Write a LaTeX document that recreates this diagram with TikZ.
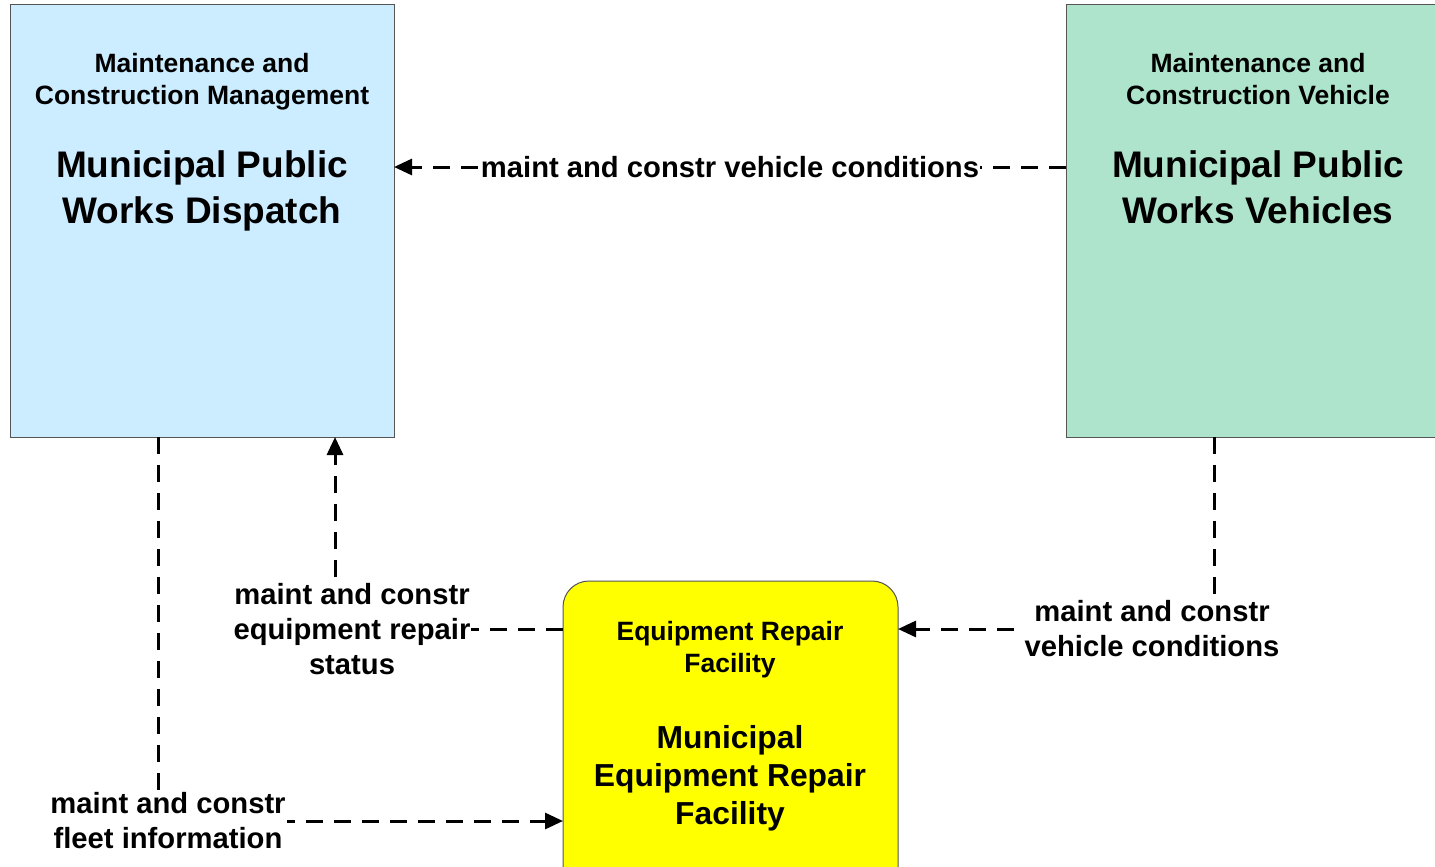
\documentclass[tikz,border=0pt]{standalone}
\usepackage{fontspec}
\setmainfont{Liberation Sans}
\usetikzlibrary{arrows.meta,calc}
\definecolor{dispblue}{HTML}{CCECFF}
\definecolor{vehgreen}{HTML}{AEE4CB}
\definecolor{repyellow}{HTML}{FFFF00}
\definecolor{boxline}{HTML}{555555}
\tikzset{
  boxshape/.style={draw=boxline, line width=1pt, inner sep=0pt},
  hdr/.style={font=\bfseries\fontsize{26.5}{32}\selectfont, align=center, inner sep=0pt},
  ttl/.style={font=\bfseries\fontsize{37}{46}\selectfont, align=center, inner sep=0pt},
  ttlsmall/.style={font=\bfseries\fontsize{31.8}{38}\selectfont, align=center, inner sep=0pt},
  flow/.style={line width=3pt, dash pattern=on 17pt off 11pt, -{Triangle[length=18pt,width=16pt]}},
  lab/.style={font=\bfseries\fontsize{29.2}{35}\selectfont, align=center, fill=white, inner sep=1pt}
}
\begin{document}
\begin{tikzpicture}[x=1pt,y=-1pt]
\useasboundingbox (0,0) rectangle (1435,867);
% boxes
\node[boxshape, fill=dispblue, minimum width=384pt, minimum height=432pt] (disp) at (202,221) {};
\node[boxshape, fill=vehgreen, minimum width=384pt, minimum height=432pt] (veh) at (1258,221) {};
\node[boxshape, fill=repyellow, rounded corners=26pt, minimum width=335pt, minimum height=330pt] (rep) at (730.5,746) {};
% box texts
\node[hdr] (disphdr) at (202,82) {Maintenance and\\Construction Management};
\node[ttl] (dispttl) at (202,191) {Municipal Public\\Works Dispatch};
\node[hdr] (vehhdr) at (1258,79) {Maintenance and\\Construction Vehicle};
\node[ttl] (vehttl) at (1258,187) {Municipal Public\\Works Vehicles};
\node[hdr] (rephdr) at (730,650) {Equipment Repair\\Facility};
\node[ttlsmall] (repttl) at (730,778) {Municipal\\Equipment Repair\\Facility};
% anchor coordinates
\coordinate (vehW) at (1066,167);
\coordinate (dispE) at (394,167);
\coordinate (vehS) at (1214,437);
\coordinate (repE) at (898,629);
\coordinate (repW) at (563,629);
\coordinate (dispS1) at (335,437);
\coordinate (dispS2) at (158,437);
\coordinate (repW2) at (563,821);
% connectors
\draw[flow] (vehW) -- node[lab] {maint and constr vehicle conditions} (dispE);
\draw[flow] (vehS) |- node[lab, pos=0.5, xshift=-62pt] {maint and constr\\vehicle conditions} (repE);
\draw[flow] (repW) -| node[lab, pos=0.5, xshift=17pt] {maint and constr\\equipment repair\\status} (dispS1);
\draw[flow] (dispS2) |- node[lab, pos=0.5, xshift=10pt] {maint and constr\\fleet information} (repW2);
\end{tikzpicture}
\end{document}
